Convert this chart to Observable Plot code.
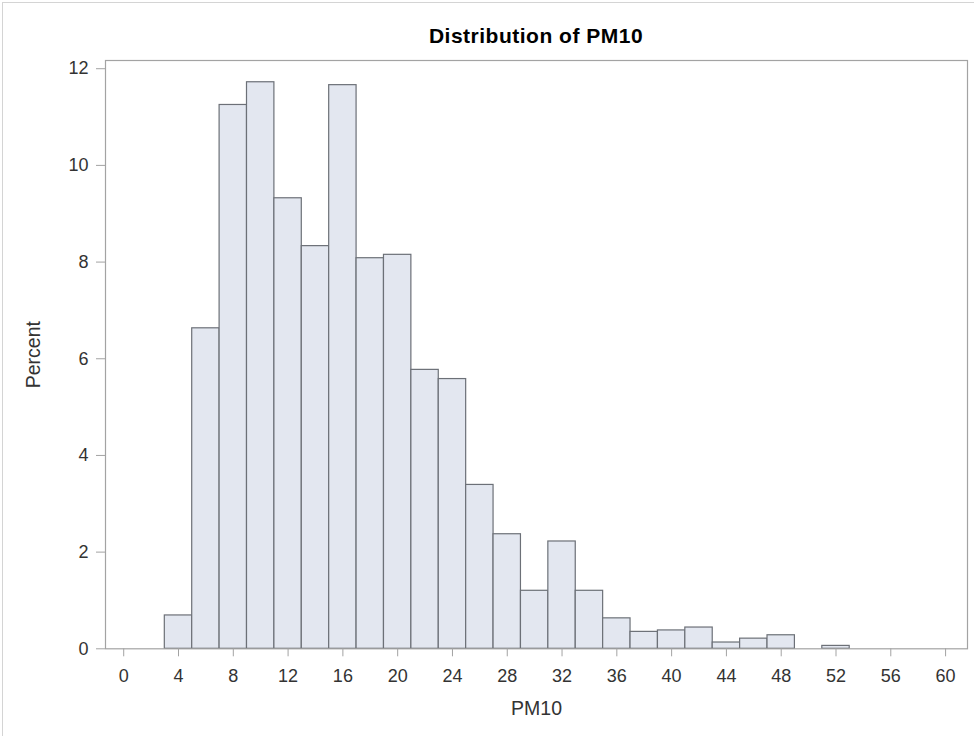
<!DOCTYPE html>
<html>
<head>
<meta charset="utf-8">
<script src="https://cdn.jsdelivr.net/npm/d3@7"></script>
<script src="https://cdn.jsdelivr.net/npm/@observablehq/plot@0.6"></script>
<style>
  html, body { margin: 0; padding: 0; background: #fff; }
  #wrap { position: relative; width: 974px; height: 736px; overflow: hidden; font-family: "Liberation Sans", Arial, sans-serif; }
  #border { position: absolute; left: 2px; top: 2px; width: 980px; height: 740px; border-left: 1px solid #d4d4d4; border-top: 1px solid #d4d4d4; pointer-events: none; }
  #title { box-sizing: border-box; height: 52px; padding-top: 25px; margin-left: 105px; width: 862px; text-align: center; font-size: 21px; line-height: 21px; font-weight: bold; letter-spacing: 0.5px; color: #000; }
  #chart svg { display: block; }
  [aria-label="x-axis label"], [aria-label="y-axis label"] { font-size: 19.5px; }
</style>
</head>
<body>
<div id="wrap">
  <div id="border"></div>
  <div id="title">Distribution of PM10</div>
  <div id="chart"></div>
</div>
<script>
// Histogram bins (midpoints, width 2) and percent per bin
const binWidth = 2;
const binMid = [4, 6, 8, 10, 12, 14, 16, 18, 20, 22, 24, 26, 28, 30, 32, 34, 36, 38, 40, 42, 44, 46, 48, 50, 52];
const percent = [0.69, 6.63, 11.25, 11.72, 9.32, 8.33, 11.66, 8.08, 8.15, 5.77, 5.58, 3.39, 2.37, 1.20, 2.22, 1.20, 0.63, 0.35, 0.38, 0.44, 0.13, 0.21, 0.28, 0, 0.06];
const xTicks = [0, 4, 8, 12, 16, 20, 24, 28, 32, 36, 40, 44, 48, 52, 56, 60];
const yTicks = [0, 2, 4, 6, 8, 10, 12];

const bins = binMid.map((m, i) => ({lo: m - binWidth / 2, hi: m + binWidth / 2, pct: percent[i]}));

const chart = Plot.plot({
  width: 974,
  height: 684,
  marginTop: 8,
  marginBottom: 87.7,
  marginLeft: 105,
  marginRight: 7,
  style: {fontFamily: "'Liberation Sans', Arial, sans-serif", background: "#fff"},
  x: {domain: [-1.33, 61.6], label: "PM10", labelArrow: "none"},
  y: {domain: [0, 12.17], label: "Percent", labelArrow: "none"},
  marks: [
    Plot.rectY(bins, {filter: d => d.pct > 0, x1: "lo", x2: "hi", y: "pct", fill: "#e3e7f0", stroke: "#6c7077", strokeWidth: 1.2}),
    Plot.frame({stroke: "#a3a3a3", strokeWidth: 1.2}),
    Plot.axisX({ticks: xTicks, tickSize: 8, tickPadding: 12, fontSize: 18, stroke: "#a3a3a3", fill: "#333", label: "PM10", labelArrow: "none", labelAnchor: "center", labelOffset: 65.7}),
    Plot.axisY({ticks: yTicks, tickSize: 9, tickPadding: 8, fontSize: 18, stroke: "#a3a3a3", fill: "#333", label: "Percent", labelArrow: "none", labelAnchor: "center", labelOffset: 79})
  ]
});
// Fallback in case this Plot version still appends arrows to labels
chart.querySelectorAll('[aria-label="x-axis label"] text, [aria-label="y-axis label"] text, [aria-label="x-axis label"] tspan, [aria-label="y-axis label"] tspan').forEach(t => {
  if (t.childNodes.length === 1 && t.firstChild.nodeType === 3) {
    t.textContent = t.textContent.replace(/\s*[→↑←↓]\s*/g, "").trim();
  }
});
document.getElementById("chart").appendChild(chart);
</script>
</body>
</html>
